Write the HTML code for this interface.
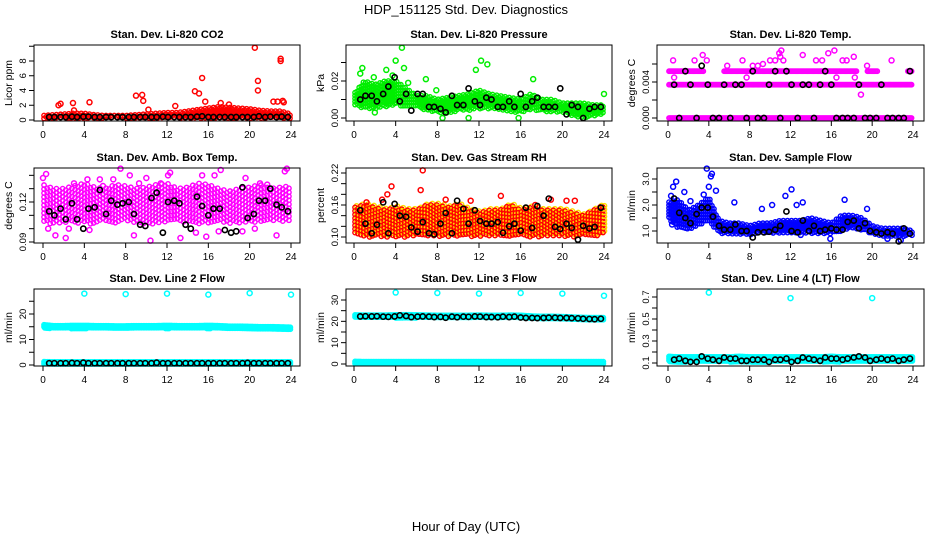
<!DOCTYPE html>
<html><head><meta charset="utf-8"><style>
body{margin:0;background:#fff}
svg text{font-family:"Liberation Sans",sans-serif}
</style></head><body>
<svg id="c" width="936" height="540" viewBox="0 0 936 540" xmlns="http://www.w3.org/2000/svg">
<rect width="936" height="540" fill="#fff"/>
<text x="466" y="14" font-size="13" text-anchor="middle">HDP_151125  Std. Dev. Diagnostics</text>
<text x="466" y="531" font-size="13" text-anchor="middle">Hour of Day (UTC)</text>
</svg>
<script>
const hours=[0,1,2,3,4,5,6,7,8,9,10,11,12,13,14,15,16,17,18,19,20,21,22,23,24];
const blackHours=[0.6,1.1,1.7,2.2,2.8,3.3,3.9,4.4,5.0,5.5,6.1,6.6,7.2,7.7,8.3,8.8,9.4,9.9,10.5,11.0,11.6,12.1,12.7,13.2,13.8,14.3,14.9,15.4,16.0,16.5,17.1,17.6,18.2,18.7,19.3,19.8,20.4,20.9,21.5,22.0,22.6,23.1,23.7];
// CO2
const co2Lo=[0.2,0.2,0.2,0.2,0.2,0.2,0.2,0.2,0.2,0.2,0.2,0.2,0.2,0.2,0.2,0.2,0.2,0.2,0.2,0.2,0.2,0.2,0.2,0.2,0.2];
const co2Hi=[0.6,0.7,0.8,0.9,0.9,0.7,0.6,0.6,0.6,0.7,0.8,0.9,1.0,1.0,1.2,1.4,1.6,1.8,1.7,1.6,1.5,1.3,1.2,1.2,0.8];
const co2OutX=[1.5,1.7,2.9,4.5,9.0,9.6,9.7,12.8,14.7,15.1,15.4,15.7,20.5,20.8,20.8,22.3,22.7,23.0,23.0,23.2,23.3,17.2,18.0,10.2,3.0];
const co2OutY=[2.0,2.2,2.3,2.4,3.3,3.4,2.6,1.9,3.9,3.6,5.7,2.5,9.8,5.3,4.0,2.5,2.5,8.3,8.0,2.6,2.4,2.3,2.1,1.4,1.3];
const co2Black=[0.4,0.4,0.4,0.4,0.45,0.4,0.45,0.45,0.4,0.4,0.4,0.4,0.4,0.4,0.4,0.4,0.4,0.4,0.4,0.4,0.45,0.4,0.4,0.4,0.4,0.4,0.45,0.5,0.4,0.4,0.4,0.4,0.4,0.4,0.4,0.4,0.4,0.5,0.4,0.45,0.4,0.45,0.4];
// Pressure
const presLo=[0.007,0.005,0.005,0.006,0.007,0.006,0.006,0.004,0.003,0.002,0.004,0.004,0.005,0.005,0.004,0.003,0.003,0.004,0.004,0.003,0.003,0.001,0.0,0.001,0.002];
const presHi=[0.013,0.02,0.018,0.02,0.02,0.016,0.012,0.012,0.01,0.011,0.012,0.013,0.015,0.013,0.012,0.011,0.01,0.013,0.01,0.01,0.008,0.008,0.008,0.007,0.007];
const presOutX=[4.6,4.0,3.7,0.8,4.8,11.7,12.2,12.8,3.1,1.9,17.2,6.9,24.0,11.0,15.8,8.5,2.0,0.6,5.2,7.9];
const presOutY=[0.038,0.031,0.023,0.027,0.027,0.026,0.031,0.029,0.026,0.022,0.021,0.021,0.013,0.0,0.0,0.0,0.003,0.024,0.019,0.015];
const presBlack=[0.010,0.012,0.012,0.009,0.013,0.017,0.022,0.009,0.013,0.004,0.013,0.013,0.006,0.006,0.005,0.003,0.012,0.007,0.007,0.016,0.009,0.007,0.011,0.010,0.006,0.006,0.009,0.006,0.013,0.006,0.009,0.011,0.006,0.006,0.006,0.016,0.002,0.007,0.006,0.000,0.005,0.006,0.006];
// Temp
const tempLowLo=[0,0,0,0,0,0,0,0,0,0,0,0,0,0,0,0,0,0,0,0,0,0,0,0,0];
const tempMidLo=[0.0037,0.0037,0.0037,0.0037,0.0037,0.0037,0.0037,0.0037,0.0037,0.0037,0.0037,0.0037,0.0037,0.0037,0.0037,0.0037,0.0037,0.0037,0.0037,0.0037,0.0037,0.0037,0.0037,0.0037,0.0037];
const tempUpLevel=[0.0052,0.0052,0.0052,0.0052,null,null,0.0052,0.0052,0.0052,0.0052,0.0052,0.0052,0.0052,0.0052,0.0052,0.0052,0.0052,0.0052,0.0052,null,0.0052,null,null,null,0.0052];
const tempOutX=[0.5,2.6,3.4,3.8,5.8,7.3,8.3,8.8,9.3,10.0,10.5,10.9,11.0,11.3,13.2,14.5,15.1,15.7,16.3,17.1,17.5,18.2,19.5,21.9,0.6,7.7,16.5,18.3,18.9,11.1];
const tempOutY=[0.0064,0.0064,0.007,0.0064,0.0058,0.0064,0.0058,0.0058,0.006,0.0064,0.0064,0.0072,0.0068,0.0064,0.007,0.0064,0.0064,0.0072,0.0075,0.0064,0.0064,0.0068,0.0058,0.0064,0.0045,0.0045,0.0045,0.0045,0.0026,0.0075];
const tempBlack=[0.0037,0,0.0052,0.0037,0,0.0058,0.0037,0,0,0.0037,0,0.0037,0.0037,0,0.0052,0,0,0.0037,0.0052,0,0.0052,0.0037,0,0.0037,0.0037,0,0.0037,0.0052,0.0037,0,0,0,0,0.0037,0,0,0,0.0037,0,0,0,0,0.0052];
// Amb box temp
const ambLo=[0.104,0.103,0.104,0.105,0.103,0.104,0.105,0.104,0.106,0.104,0.103,0.104,0.105,0.106,0.104,0.103,0.104,0.105,0.104,0.103,0.105,0.104,0.106,0.105,0.106];
const ambHi=[0.133,0.13,0.13,0.132,0.134,0.131,0.13,0.133,0.132,0.13,0.131,0.133,0.134,0.13,0.131,0.134,0.133,0.13,0.128,0.13,0.131,0.133,0.13,0.131,0.132];
const ambOutX=[0,0.5,1.2,2.2,4.3,5.5,5.8,6.8,7.5,8.4,9.3,10,10.4,12.1,13.3,15.4,16.6,17.2,15.8,17,19.6,20.5,21,21.7,22.6,23.4,23.6,0.3,3,2.5,14.8,19.3,11.4,8.8,4.5,12.3];
const ambOutY=[0.138,0.1,0.095,0.093,0.137,0.137,0.132,0.137,0.145,0.14,0.134,0.138,0.091,0.14,0.093,0.14,0.14,0.144,0.094,0.098,0.138,0.1,0.134,0.133,0.095,0.143,0.145,0.141,0.134,0.1,0.097,0.098,0.134,0.095,0.099,0.142];
const ambBlack=[0.113,0.11,0.115,0.107,0.119,0.107,0.1,0.115,0.116,0.129,0.111,0.121,0.118,0.119,0.12,0.111,0.103,0.102,0.123,0.127,0.097,0.12,0.121,0.119,0.103,0.1,0.124,0.117,0.11,0.115,0.115,0.099,0.097,0.098,0.131,0.108,0.111,0.121,0.121,0.13,0.118,0.116,0.113];
// Gas stream RH
const rhLo=[0.105,0.1,0.1,0.1,0.1,0.1,0.1,0.1,0.1,0.1,0.1,0.1,0.1,0.1,0.1,0.1,0.1,0.1,0.1,0.1,0.1,0.1,0.1,0.1,0.105];
const rhHi=[0.155,0.16,0.155,0.15,0.155,0.15,0.15,0.16,0.16,0.155,0.16,0.15,0.145,0.15,0.15,0.16,0.15,0.155,0.15,0.15,0.15,0.145,0.14,0.15,0.16];
const rhOutX=[3.6,3.2,6.6,6.4,8.8,14.1,20.4,21.2,18.9,1.2,17.4,2.7,11.2];
const rhOutY=[0.195,0.18,0.225,0.188,0.17,0.177,0.168,0.168,0.17,0.165,0.16,0.17,0.168];
const rhBlack=[0.15,0.125,0.107,0.123,0.165,0.107,0.162,0.14,0.138,0.118,0.11,0.128,0.107,0.105,0.125,0.145,0.107,0.168,0.153,0.125,0.15,0.13,0.125,0.125,0.128,0.108,0.12,0.125,0.112,0.155,0.117,0.158,0.14,0.172,0.119,0.115,0.125,0.117,0.095,0.121,0.116,0.119,0.155];
// Sample flow
const flowLo=[1.5,1.1,1.0,1.2,1.4,0.9,0.9,0.85,0.85,0.9,0.9,0.9,0.9,0.9,0.9,0.9,0.9,1.0,1.1,1.0,0.9,0.8,0.8,0.8,0.8];
const flowHi=[2.1,2.2,1.8,2.0,2.3,1.4,1.3,1.3,1.2,1.3,1.3,1.4,1.4,1.4,1.5,1.4,1.3,1.6,1.6,1.5,1.2,1.1,1.1,1.1,1.0];
const flowOutX=[0.8,0.5,1.6,0.3,2.2,3.5,4.0,4.2,4.3,3.8,6.5,9.2,10.2,11.5,12.1,12.6,13.2,17.3,19.5,4.7,0.4,15.9,13.0,21.5,22.8];
const flowOutY=[2.9,2.7,2.5,2.35,2.15,2.4,2.7,3.1,3.2,3.4,2.1,1.85,2.0,2.35,2.6,2.0,2.1,2.2,1.85,2.55,1.25,0.7,0.85,0.7,0.65];
const flowBlack=[2.25,1.7,1.5,1.3,1.65,1.9,1.9,1.55,1.2,1.05,1.05,1.25,1.0,1.0,0.75,0.95,0.95,0.97,1.05,1.2,1.75,1.0,0.95,1.4,1.0,1.2,1.0,1.05,1.1,1.05,1.05,1.35,1.4,1.1,1.3,1.0,0.95,0.9,0.95,0.9,0.6,1.1,0.9];
// Line 2
const l2HiLo=[14.3,14.3,14.3,14.3,14.3,14.3,14.3,14.3,14.3,14.3,14.3,14.3,14.3,14.3,14.3,14.3,14.3,14.3,14.2,14.1,14.0,14.0,13.9,13.8,13.8];
const l2HiHi=[15.8,15.4,15.4,15.5,15.5,15.4,15.4,15.3,15.3,15.4,15.4,15.4,15.5,15.4,15.4,15.4,15.5,15.4,15.2,15.2,15.1,15.0,15.0,14.9,14.8];
const l2LoLo=[0.2,0.2,0.2,0.2,0.2,0.2,0.2,0.2,0.2,0.2,0.2,0.2,0.2,0.2,0.2,0.2,0.2,0.2,0.2,0.2,0.2,0.2,0.2,0.2,0.2];
const l2LoHi=[1.3,1.2,1.2,1.2,1.2,1.2,1.2,1.2,1.2,1.2,1.2,1.2,1.2,1.2,1.2,1.2,1.2,1.2,1.2,1.2,1.2,1.2,1.2,1.2,1.2];
const l2OutX=[4,8,12,16,20,24];
const l2OutY=[28,27.8,28,27.6,28.2,27.6];
const l2Black=[0.7,0.7,0.7,0.7,0.8,0.7,0.9,0.7,0.7,0.7,0.7,0.7,0.7,0.7,0.7,0.7,0.7,0.7,0.7,0.9,0.7,0.7,0.7,0.7,0.7,0.7,0.7,0.7,0.7,0.7,0.7,0.7,0.7,0.7,0.7,0.8,0.7,0.7,0.7,0.7,0.7,0.7,0.7];
// Line 3
const l3HiLo=[21.6,21.6,21.6,21.6,21.6,21.6,21.6,21.6,21.5,21.5,21.5,21.5,21.5,21.5,21.5,21.5,21.4,21.2,21.0,21.0,20.9,20.8,20.6,20.5,20.4];
const l3HiHi=[23.0,22.9,22.9,22.9,23.0,23.1,23.0,22.9,22.8,22.8,22.8,22.8,22.9,22.8,22.8,22.9,22.8,22.5,22.3,22.3,22.2,22.0,21.8,21.7,21.7];
const l3LoLo=[0,0,0,0,0,0,0,0,0,0,0,0,0,0,0,0,0,0,0,0,0,0,0,0,0];
const l3LoHi=[1.2,1.1,1.1,1.1,1.1,1.1,1.1,1.1,1.1,1.1,1.1,1.1,1.1,1.1,1.1,1.1,1.1,1.1,1.1,1.1,1.1,1.1,1.1,1.1,1.1];
const l3OutX=[4,8,12,16,20,24];
const l3OutY=[33.5,33.3,33,33.3,33,32];
const l3Black=[22.3,22.4,22.3,22.4,22.2,22.1,22.3,22.8,22.5,22.0,22.2,22.3,22.2,22.0,22.1,21.7,22.2,21.9,22.2,22.1,22.3,22.2,22.0,22.0,21.9,22.2,22.0,22.2,21.8,21.6,21.6,21.5,21.6,21.7,21.7,21.6,21.6,21.5,21.4,21.2,21.1,21.0,21.2];
// Line 4
const l4Lo=[0.11,0.105,0.11,0.11,0.11,0.11,0.11,0.11,0.11,0.105,0.11,0.11,0.11,0.11,0.11,0.11,0.11,0.11,0.11,0.11,0.11,0.11,0.11,0.11,0.115];
const l4Hi=[0.16,0.155,0.155,0.155,0.155,0.155,0.155,0.16,0.155,0.155,0.155,0.155,0.155,0.155,0.155,0.155,0.16,0.155,0.155,0.155,0.155,0.155,0.155,0.155,0.155];
const l4OutX=[4,12,20];
const l4OutY=[0.74,0.69,0.69];
const l4Black=[0.13,0.14,0.12,0.11,0.11,0.16,0.14,0.13,0.12,0.15,0.14,0.14,0.12,0.12,0.13,0.13,0.13,0.11,0.13,0.13,0.14,0.11,0.12,0.15,0.14,0.13,0.12,0.15,0.14,0.14,0.13,0.14,0.15,0.16,0.15,0.12,0.13,0.14,0.13,0.14,0.12,0.13,0.14];

const NS="http://www.w3.org/2000/svg";
const svg=document.getElementById('c');
function mk(tag,attrs,parent){const e=document.createElementNS(NS,tag);for(const k in attrs)e.setAttribute(k,attrs[k]);(parent||svg).appendChild(e);return e;}

const cols=[{l:34,r:300,x0:43,x24:291},{l:346,r:612,x0:354,x24:604},{l:657,r:924,x0:668,x24:913}];
const rows=[{t:45,b:121},{t:168,b:243},{t:289,b:366}];

const panels=[
 {id:'co2',title:'Stan. Dev. Li-820 CO2',ylab:'Licor ppm',c:0,r:0,ref:[0,120,8,61],ticks:[0,2,4,6,8,10],labels:['0','2','4','6','8'],col:'#ff0000',bands:[[co2Lo,co2Hi]],ox:co2OutX,oy:co2OutY,bk:co2Black},
 {id:'pressure',title:'Stan. Dev. Li-820 Pressure',ylab:'kPa',c:1,r:0,ref:[0,118,0.02,81],ticks:[0,0.01,0.02,0.03],labels:['0.00','','0.02'],col:'#00ee00',bands:[[presLo,presHi]],ox:presOutX,oy:presOutY,bk:presBlack},
 {id:'temp',title:'Stan. Dev. Li-820 Temp.',ylab:'degrees C',c:2,r:0,ref:[0,118,0.004,82],ticks:[0,0.002,0.004,0.006],labels:['0.000','','0.004'],col:'#ff00ff',bands:[[tempLowLo,tempLowLo],[tempMidLo,tempMidLo],[tempUpLevel,tempUpLevel]],ox:tempOutX,oy:tempOutY,bk:tempBlack,xstep:0.12},
 {id:'amb-box-temp',title:'Stan. Dev. Amb. Box Temp.',ylab:'degrees C',c:0,r:1,ref:[0.09,242,0.12,202],ticks:[0.09,0.10,0.11,0.12,0.13,0.14],labels:['0.09','','','0.12'],col:'#ff00ff',bands:[[ambLo,ambHi]],ox:ambOutX,oy:ambOutY,bk:ambBlack,xstep:0.3,ystep:4},
 {id:'gas-stream-rh',title:'Stan. Dev. Gas Stream RH',ylab:'percent',c:1,r:1,ref:[0.10,237,0.22,173],ticks:[0.10,0.12,0.14,0.16,0.18,0.20,0.22],labels:['0.10','','','0.16','','','0.22'],col:'#ff0000',col2:'#ffdd00',bands:[[rhLo,rhHi]],ox:rhOutX,oy:rhOutY,bk:rhBlack,xstep:0.28,ystep:3.6},
 {id:'sample-flow',title:'Stan. Dev. Sample Flow',ylab:'ml/min',c:2,r:1,ref:[1,231,3,179],ticks:[1,1.5,2,2.5,3],labels:['1.0','','2.0','','3.0'],col:'#0000ff',bands:[[flowLo,flowHi]],ox:flowOutX,oy:flowOutY,bk:flowBlack},
 {id:'line2-flow',title:'Stan. Dev. Line 2 Flow',ylab:'ml/min',c:0,r:2,ref:[0,365,20,314],ticks:[0,5,10,15,20,25],labels:['0','','10','','20'],col:'#00ffff',bands:[[l2HiLo,l2HiHi],[l2LoLo,l2LoHi]],ox:l2OutX,oy:l2OutY,bk:l2Black,xstep:0.08,ystep:2},
 {id:'line3-flow',title:'Stan. Dev. Line 3 Flow',ylab:'ml/min',c:1,r:2,ref:[0,364,30,300],ticks:[0,5,10,15,20,25,30],labels:['0','','10','','20','','30'],col:'#00ffff',bands:[[l3HiLo,l3HiHi],[l3LoLo,l3LoHi]],ox:l3OutX,oy:l3OutY,bk:l3Black,xstep:0.08,ystep:2},
 {id:'line4-flow',title:'Stan. Dev. Line 4 (LT) Flow',ylab:'ml/min',c:2,r:2,ref:[0.1,363,0.7,297],ticks:[0.1,0.2,0.3,0.4,0.5,0.6,0.7],labels:['0.1','','0.3','','0.5','','0.7'],col:'#00ffff',bands:[[l4Lo,l4Hi]],ox:l4OutX,oy:l4OutY,bk:l4Black,xstep:0.08,ystep:2}
];

function interp(arr,h){
  const i=Math.min(Math.floor(h),23),f=h-i,a=arr[i],b=arr[i+1];
  if(a!=null&&b!=null)return a+(b-a)*f;
  return f<0.5?a:b;
}

panels.forEach(p=>{
  const C=cols[p.c],R=rows[p.r];
  const g=mk('g',{});
  
  
  const xs=h=>C.x0+h/24*(C.x24-C.x0);
  const ys=v=>p.ref[1]+(v-p.ref[0])*(p.ref[3]-p.ref[1])/(p.ref[2]-p.ref[0]);
  const t=mk('text',{x:(C.l+C.r)/2,y:R.t-7,'font-size':11,'font-weight':'bold','text-anchor':'middle'},g);
  t.textContent=p.title;
  
  
  const yl=mk('text',{transform:`translate(${C.l-22},${(R.t+R.b)/2}) rotate(-90)`,'font-size':10.5,'text-anchor':'middle'},g);
  yl.textContent=p.ylab;
  
  
  const pts=mk('g',{fill:'none','stroke-width':1.4},g);
  
  
  const xstep=p.xstep||0.2, ystep=p.ystep||3;
  p.bands.forEach(([lo,hi])=>{
    let k=0;
    for(let h=0.1;h<=23.95;h+=xstep,k++){
      const l=interp(lo,h),u=interp(hi,h);
      if(l==null||u==null)continue;
      const y1=ys(u),y2=ys(l);
      const off=(k%2)*ystep/2;
      let y=y1+off; if(y>y2)y=y2;
      for(;y<=y2+0.01;y+=ystep){
        if(p.col2){mk('circle',{cx:xs(h)+1.5,cy:y-1.5,r:2.2,stroke:p.col2},pts);}
        mk('circle',{cx:xs(h),cy:y,r:2.2,stroke:p.col},pts);
      }
    }
  });
  p.ox.forEach((h,i)=>{
    const c=mk('circle',{cx:xs(h),cy:ys(p.oy[i]),r:2.5,stroke:p.col,'stroke-width':1.5},pts);
    
    
  });
  p.bk.forEach((v,i)=>{
    const c=mk('circle',{cx:xs(blackHours[i]),cy:ys(v),r:2.6,stroke:'#000','stroke-width':1.6},pts);
    
    
  });
  const b=mk('rect',{x:C.l,y:R.t,width:C.r-C.l,height:R.b-R.t,fill:'none',stroke:'#000','stroke-width':1},g);
  
  
  const xa=mk('g',{stroke:'#000','stroke-width':1},g);
  
  
  mk('line',{x1:C.x0,x2:C.x24,y1:R.b,y2:R.b},xa);
  [0,4,8,12,16,20,24].forEach(h=>{
    mk('line',{x1:xs(h),x2:xs(h),y1:R.b,y2:R.b+5},xa);
    const tl=mk('text',{x:xs(h),y:R.b+17,'font-size':10,'text-anchor':'middle',stroke:'none'},xa);
    tl.textContent=h;
    
    
  });
  const ya=mk('g',{stroke:'#000','stroke-width':1},g);
  
  
  mk('line',{x1:C.l,x2:C.l,y1:ys(p.ticks[0]),y2:ys(p.ticks[p.ticks.length-1])},ya);
  p.ticks.forEach((v,i)=>{
    mk('line',{x1:C.l-5,x2:C.l,y1:ys(v),y2:ys(v)},ya);
    if(p.labels[i]){
      const tl=mk('text',{transform:`translate(${C.l-8},${ys(v)}) rotate(-90)`,'font-size':9.5,'text-anchor':'middle',stroke:'none'},ya);
      tl.textContent=p.labels[i];
      
      
    }
  });
});
</script>
</body></html>
